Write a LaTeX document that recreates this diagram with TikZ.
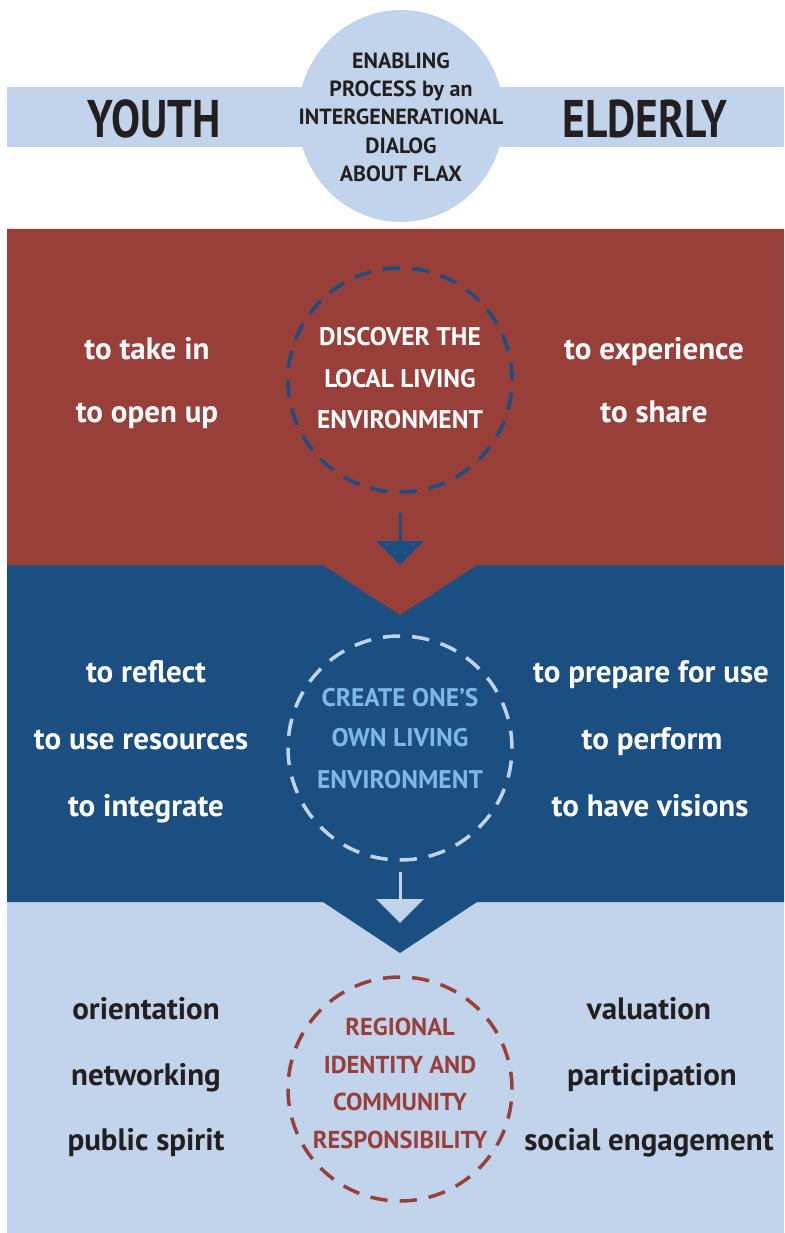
\documentclass[tikz,border=0pt]{standalone}
\usepackage{fontspec}
\setmainfont{PT Sans}
\newfontfamily\condfont{PT Sans}[FakeStretch=0.82]
\usetikzlibrary{arrows.meta,shapes.geometric}
\definecolor{cred}{HTML}{983F3A}
\definecolor{cblue}{HTML}{1B4F82}
\definecolor{clight}{HTML}{C2D4EB}
\definecolor{csky}{HTML}{7DB9E8}
\definecolor{cdark}{HTML}{231F20}
\begin{document}
\begin{tikzpicture}[x=1pt,y=-1pt,
  body/.style={anchor=base,inner sep=0pt,font=\fontsize{31}{36}\selectfont\bfseries},
  circtext/.style={anchor=base,inner sep=0pt,font=\fontsize{25.5}{30}\selectfont\bfseries},
  elltext/.style={anchor=base,inner sep=0pt,text=cdark,font=\fontsize{22}{26}\selectfont\bfseries},
  bigtext/.style={anchor=base,inner sep=0pt,text=cdark,font=\condfont\fontsize{53}{60}\selectfont\bfseries},
  dcircle/.style={circle,minimum size=224pt,inner sep=0pt,line width=3.5pt,dash pattern=on 17.3pt off 12pt},
  flowarrow/.style={line width=3pt,-{Triangle[width=47pt,length=24pt]}}
]
\useasboundingbox (0,0) rectangle (784,1233);
% header
\fill[clight] (7,87) rectangle (784,147);
\node[ellipse,fill=clight,minimum width=206pt,minimum height=212pt,inner sep=0pt] (ell) at (401,116) {};
\node[bigtext] (youth) at (154,138) {YOUTH};
\node[bigtext] (elderly) at (645,138) {ELDERLY};
\node[elltext] (e1) at (401,68.3) {ENABLING};
\node[elltext] (e2) at (401,96.7) {PROCESS by an};
\node[elltext] (e3) at (401,125) {INTERGENERATIONAL};
\node[elltext] (e4) at (401,153.3) {DIALOG};
\node[elltext] (e5) at (401,181.7) {ABOUT FLAX};
% sections
\fill[clight] (7,902) rectangle (784,1233);
\fill[cblue] (7,565) -- (784,565) -- (784,902) -- (477,902) -- (400,953) -- (323,902) -- (7,902) -- cycle;
\fill[cred] (7,229) -- (784,229) -- (784,565) -- (477,565) -- (400,615) -- (323,565) -- (7,565) -- cycle;
% circles
\node[dcircle,draw=cblue] (c1) at (400,380) {};
\node[dcircle,draw=clight] (c2) at (400,748) {};
\node[dcircle,draw=cred] (c3) at (400,1089) {};
% arrows
\coordinate (a1s) at (400,513);
\coordinate (a1e) at (400,565);
\coordinate (a2s) at (400,872);
\coordinate (a2e) at (400,923);
\draw[flowarrow,cblue] (a1s) -- (a1e);
\draw[flowarrow,clight] (a2s) -- (a2e);
% red section
\node[body,text=white] (r1) at (147,359) {to take in};
\node[body,text=white] (r2) at (147,422) {to open up};
\node[body,text=white] (r3) at (654,359) {to experience};
\node[body,text=white] (r4) at (654,422) {to share};
\node[circtext,text=white] (rc1) at (400,345) {DISCOVER THE};
\node[circtext,text=white] (rc2) at (400,387) {LOCAL LIVING};
\node[circtext,text=white] (rc3) at (400,428) {ENVIRONMENT};
% blue section
\node[body,text=white] (b1) at (146,682) {to reflect};
\node[body,text=white] (b2) at (141,749) {to use resources};
\node[body,text=white] (b3) at (146,816) {to integrate};
\node[body,text=white] (b4) at (651,682) {to prepare for use};
\node[body,text=white] (b5) at (652,749) {to perform};
\node[body,text=white] (b6) at (650,816) {to have visions};
\node[circtext,text=csky] (bc1) at (400,706) {CREATE ONE’S};
\node[circtext,text=csky] (bc2) at (400,746) {OWN LIVING};
\node[circtext,text=csky] (bc3) at (400,788) {ENVIRONMENT};
% light section
\node[body,text=cdark] (l1) at (146,1019) {orientation};
\node[body,text=cdark] (l2) at (146,1085) {networking};
\node[body,text=cdark] (l3) at (146,1150) {public spirit};
\node[body,text=cdark] (l4) at (649,1019) {valuation};
\node[body,text=cdark] (l5) at (652,1085) {participation};
\node[body,text=cdark] (l6) at (649,1150) {social engagement};
\node[circtext,text=cred,font=\fontsize{24.5}{30}\selectfont\bfseries] (lc1) at (400,1035) {REGIONAL};
\node[circtext,text=cred,font=\fontsize{24.5}{30}\selectfont\bfseries] (lc2) at (400,1073) {IDENTITY AND};
\node[circtext,text=cred,font=\fontsize{24.5}{30}\selectfont\bfseries] (lc3) at (400,1110) {COMMUNITY};
\node[circtext,text=cred,font=\fontsize{24.5}{30}\selectfont\bfseries] (lc4) at (400,1148) {RESPONSIBILITY};
\end{tikzpicture}
\end{document}
